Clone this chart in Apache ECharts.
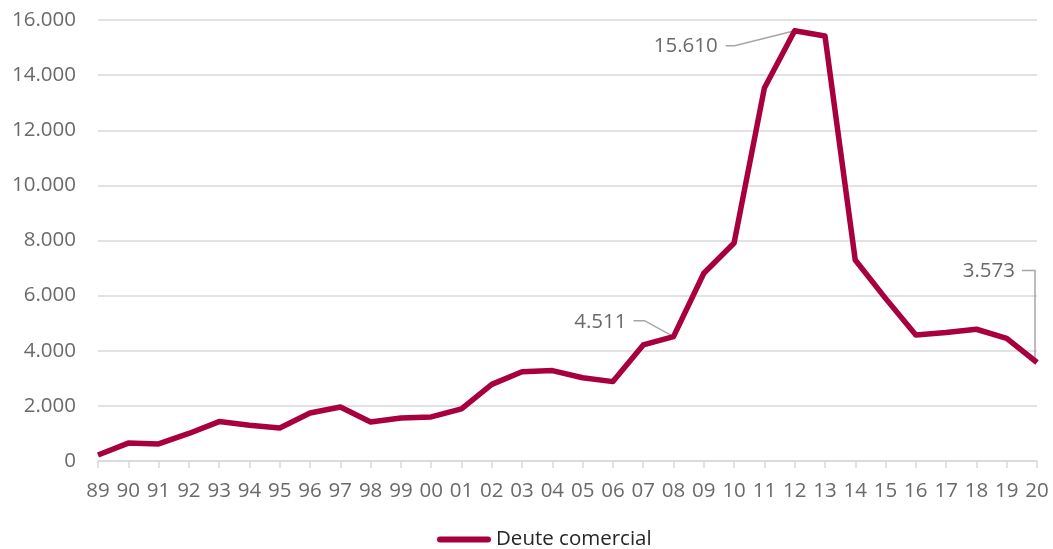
<!DOCTYPE html>
<html><head><meta charset="utf-8">
<script src="https://cdn.jsdelivr.net/npm/echarts@6/dist/echarts.min.js"></script>
<style>html,body{margin:0;padding:0;background:#fff}#c{width:1053px;height:549px}</style>
</head><body><div id="c"></div>
<script>
const categories = ['89','90','91','92','93','94','95','96','97','98','99','00','01','02','03','04','05','06','07','08','09','10','11','12','13','14','15','16','17','18','19','20'];
const deuteComercial = [220,650,620,1000,1430,1300,1200,1740,1960,1415,1560,1600,1890,2780,3240,3280,3020,2880,4210,4511,6810,7910,13530,15610,15420,7290,5900,4570,4660,4780,4450,3573];
const yTicks = {min:0, max:16000, interval:2000};
const annotations = [
  {idx: 23, text: '15.610'},
  {idx: 19, text: '4.511'},
  {idx: 31, text: '3.573'}
];
const fmt = v => v === 0 ? '0' : String(v).replace(/\B(?=(\d{3})+(?!\d))/g, '.');
const FONT = 'Open Sans';
const chart = echarts.init(document.getElementById('c'));
chart.setOption({
  animation:false,
  grid:{left:98,right:16,top:20,bottom:88},
  legend:{top:524,left:432,itemWidth:54,itemHeight:6,itemGap:6,
    icon:'path://M3,0 L51,0 A3,3 0 0 1 51,6 L3,6 A3,3 0 0 1 3,0 Z',
    textStyle:{fontFamily:FONT,fontSize:20.5,color:'#262626'},data:['Deute comercial']},
  xAxis:{type:'category',data:categories,boundaryGap:false,
    axisLine:{lineStyle:{color:'#d9d9d9',width:1.5}},
    axisTick:{show:true,interval:0,length:7,lineStyle:{color:'#d9d9d9',width:1.5}},
    axisLabel:{interval:0,hideOverlap:false,fontFamily:FONT,fontSize:20.5,color:'#6a6a6a',margin:20}},
  yAxis:{type:'value',min:yTicks.min,max:yTicks.max,interval:yTicks.interval,
    axisLine:{show:false},axisTick:{show:false},
    splitLine:{lineStyle:{color:'#d9d9d9',width:1.5}},
    axisLabel:{fontFamily:FONT,fontSize:20.5,color:'#6a6a6a',margin:22,formatter:fmt}},
  series:[{name:'Deute comercial',type:'line',data:deuteComercial,symbol:'none',
    lineStyle:{color:'#a8003f',width:5.5,join:'round'},itemStyle:{color:'#a8003f'}}]
});
// annotations positioned from the library's scales
const offsets = {23:{lx:-77,ly:15,pts:[[-69,15],[-60,15],[0,0]]},
                 19:{lx:-47,ly:-15,pts:[[-40,-16],[-29,-16],[0,0]]},
                 31:{lx:-22,ly:-91,pts:[[-15,-92],[-2,-92],[-2,-3]]}};
const g = [];
annotations.forEach(a=>{
  const p = chart.convertToPixel({xAxisIndex:0,yAxisIndex:0},[a.idx,deuteComercial[a.idx]]);
  const o = offsets[a.idx];
  g.push({type:'text',x:p[0]+o.lx,y:p[1]+o.ly,style:{text:a.text,fontFamily:FONT,fontSize:20.5,fill:'#6a6a6a',align:'right',verticalAlign:'middle'}});
  g.push({type:'polyline',shape:{points:o.pts.map(q=>[p[0]+q[0],p[1]+q[1]])},style:{stroke:'#a6a6a6',lineWidth:1.5,fill:null}});
});
chart.setOption({graphic:g});
</script></body></html>
